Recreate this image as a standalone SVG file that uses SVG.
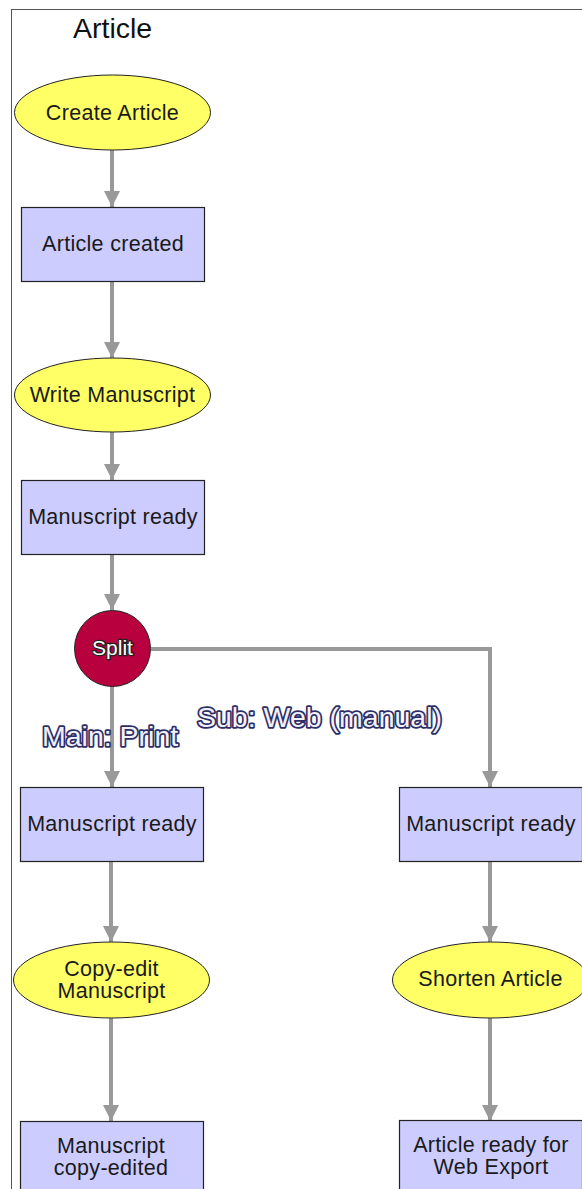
<svg xmlns="http://www.w3.org/2000/svg" width="582" height="1189" viewBox="0 0 582 1189">
  <defs>
    <style>
      .lane { fill: #ffffff; stroke: #555555; stroke-width: 1; }
      .title { font-family: "Liberation Sans", Arial, sans-serif; font-size: 28.5px; fill: #111111; }
      .act { fill: #ffff66; stroke: #222222; stroke-width: 1; }
      .state { fill: #ccccff; stroke: #222222; stroke-width: 1.2; }
      .split { fill: #b8003f; stroke: #222222; stroke-width: 1; }
      .lbl { font-family: "Liberation Sans", Arial, sans-serif; font-size: 21.5px; letter-spacing: 0.3px; fill: #1a1a1a; text-anchor: middle; }
      .splitlbl { font-family: "Liberation Sans", Arial, sans-serif; font-size: 21px; fill: #ffffff; stroke: #222222; stroke-width: 2.5; paint-order: stroke; text-anchor: middle; }
      .branch { font-family: "Liberation Sans", Arial, sans-serif; font-size: 28.5px; fill: #f2f2ff; stroke: #2e2e66; stroke-width: 3.5; paint-order: stroke; stroke-linejoin: round; }
      .edge { fill: none; stroke: #999999; stroke-width: 4; }
    </style>
    <marker id="arrow" viewBox="0 0 10 10" refX="10" refY="5" markerWidth="4" markerHeight="5" markerUnits="strokeWidth" orient="auto">
      <path d="M0,0 L10,5 L0,10 z" fill="#999999"/>
    </marker>
  </defs>

  <!-- swimlane -->
  <rect class="lane" x="11.5" y="9.5" width="600" height="1200"/>
  <text class="title" x="73" y="38">Article</text>

  <!-- connectors -->
  <g id="connectors">
    <line class="edge" x1="112" y1="150" x2="112" y2="207" marker-end="url(#arrow)"/>
    <line class="edge" x1="112" y1="282" x2="112" y2="358" marker-end="url(#arrow)"/>
    <line class="edge" x1="112" y1="432" x2="112" y2="480" marker-end="url(#arrow)"/>
    <line class="edge" x1="112" y1="554" x2="112" y2="610" marker-end="url(#arrow)"/>
    <line class="edge" x1="112" y1="686" x2="112" y2="787" marker-end="url(#arrow)"/>
    <polyline class="edge" points="151,649 490,649 490,787" marker-end="url(#arrow)"/>
    <line class="edge" x1="111" y1="861" x2="111" y2="942" marker-end="url(#arrow)"/>
    <line class="edge" x1="490" y1="861" x2="490" y2="942" marker-end="url(#arrow)"/>
    <line class="edge" x1="111" y1="1018" x2="111" y2="1121" marker-end="url(#arrow)"/>
    <line class="edge" x1="490" y1="1018" x2="490" y2="1121" marker-end="url(#arrow)"/>
  </g>

  <!-- nodes -->
  <g id="create-article">
    <ellipse class="act" cx="112.5" cy="112.5" rx="98" ry="37.5"/>
    <text class="lbl" x="112.5" y="119.5">Create Article</text>
  </g>
  <g id="article-created">
    <rect class="state" x="21.5" y="207.5" width="183" height="74"/>
    <text class="lbl" x="113" y="251">Article created</text>
  </g>
  <g id="write-manuscript">
    <ellipse class="act" cx="112.5" cy="395" rx="98" ry="37"/>
    <text class="lbl" x="112.5" y="402">Write Manuscript</text>
  </g>
  <g id="manuscript-ready">
    <rect class="state" x="21.5" y="480.5" width="183" height="74"/>
    <text class="lbl" x="113" y="524">Manuscript ready</text>
  </g>
  <g id="split">
    <circle class="split" cx="112.5" cy="648.5" r="38"/>
    <text class="splitlbl" x="112.5" y="655">Split</text>
  </g>
  <g id="branch-labels">
    <text class="branch" x="42" y="746">Main: Print</text>
    <text class="branch" x="197" y="727">Sub: Web (manual)</text>
  </g>
  <g id="manuscript-ready-print">
    <rect class="state" x="20.5" y="787.5" width="183" height="74"/>
    <text class="lbl" x="112" y="831">Manuscript ready</text>
  </g>
  <g id="manuscript-ready-web">
    <rect class="state" x="399.5" y="787.5" width="183" height="74"/>
    <text class="lbl" x="491" y="831">Manuscript ready</text>
  </g>
  <g id="copy-edit-manuscript">
    <ellipse class="act" cx="111.5" cy="980" rx="98" ry="38"/>
    <text class="lbl" x="111.5" y="976">Copy-edit</text>
    <text class="lbl" x="111.5" y="998">Manuscript</text>
  </g>
  <g id="shorten-article">
    <ellipse class="act" cx="490.5" cy="980" rx="98" ry="38"/>
    <text class="lbl" x="490.5" y="986">Shorten Article</text>
  </g>
  <g id="manuscript-copy-edited">
    <rect class="state" x="20.5" y="1121.5" width="183" height="74"/>
    <text class="lbl" x="111" y="1153">Manuscript</text>
    <text class="lbl" x="111" y="1175">copy-edited</text>
  </g>
  <g id="article-ready-web-export">
    <rect class="state" x="399.5" y="1120.5" width="183" height="74"/>
    <text class="lbl" x="491" y="1152">Article ready for</text>
    <text class="lbl" x="491" y="1174">Web Export</text>
  </g>
</svg>
